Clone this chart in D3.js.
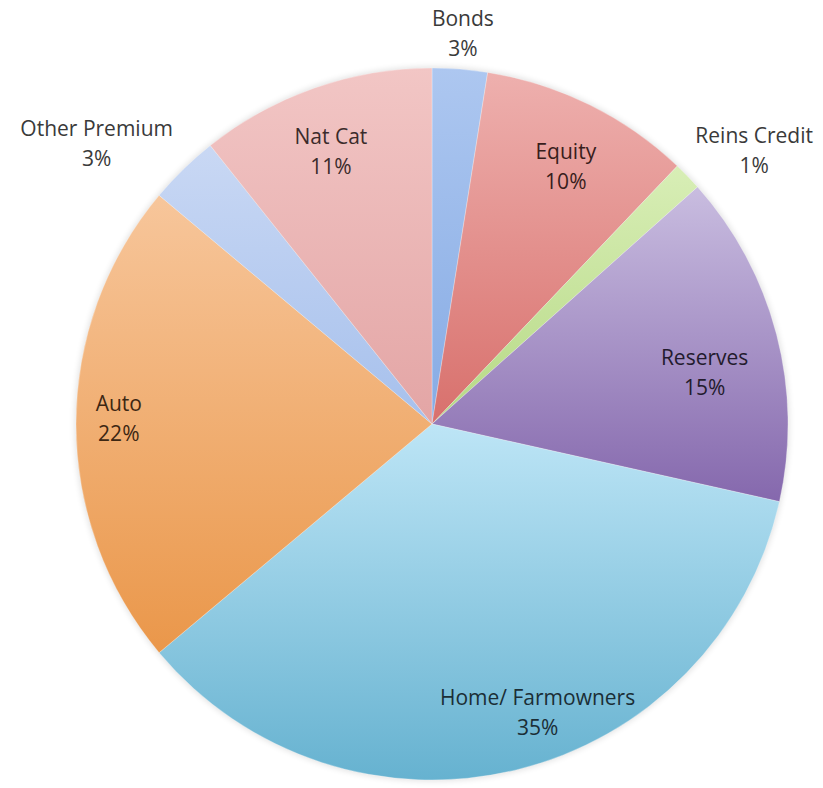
<!DOCTYPE html>
<html>
<head>
<meta charset="utf-8">
<script src="https://cdn.jsdelivr.net/npm/d3@7"></script>
<style>
  body { margin: 0; background: #fff; }
  #chart-area text { font-family: "Open Sans", Lato, sans-serif; }
</style>
</head>
<body>
<div id="chart-area"></div>
<script>
// slices clockwise from 12 o'clock
const categories = ['Bonds', 'Equity', 'Reins Credit', 'Reserves', 'Home/ Farmowners', 'Auto', 'Other Premium', 'Nat Cat']
const shares = [2.5, 9.6, 1.3, 15.1, 35.4, 22.2, 3.2, 10.7]
const pctLabels = ['3%', '10%', '1%', '15%', '35%', '22%', '3%', '11%']

// gradient colours top -> bottom per slice
const topColors = ['#adc7f0', '#eeb0ae', '#d8eeb6', '#c9bde0', '#bde5f6', '#f7c69b', '#c9d8f4', '#f2c6c5']
const bottomColors = ['#86abe4', '#d8706c', '#b6d985', '#8568ad', '#66b2d0', '#ea974a', '#a6c0ec', '#e3a5a5']

// label placement: radius factor and angle nudge (deg)
const labelLayout = {
    'Bonds': { k: 1.105, da: 0, out: true },
    'Equity': { k: 0.82, da: 1, out: false },
    'Reins Credit': { k: 1.19, da: 3.6, out: true },
    'Reserves': { k: 0.78, da: 3.6, out: false },
    'Home/ Farmowners': { k: 0.86, da: -6.5, out: false },
    'Auto': { k: 0.88, da: 1.3, out: false },
    'Other Premium': { k: 1.23, da: -5.7, out: true },
    'Nat Cat': { k: 0.82, da: -1, out: false }
}

const width = 823
const height = 788
const cx = 432
const cy = 424
const radius = 356

const data = categories.map((c, i) => ({ name: c, value: shares[i], pct: pctLabels[i], i: i }))

const svg = d3.select('#chart-area').append('svg')
    .attr('width', width)
    .attr('height', height)

const defs = svg.append('defs')

data.forEach(d => {
    const grad = defs.append('linearGradient')
        .attr('id', 'grad' + d.i)
        .attr('x1', 0).attr('y1', 0)
        .attr('x2', 0).attr('y2', 1)
    grad.append('stop').attr('offset', '0%').attr('stop-color', topColors[d.i])
    grad.append('stop').attr('offset', '100%').attr('stop-color', bottomColors[d.i])
})

const filter = defs.append('filter')
    .attr('id', 'soft')
    .attr('x', '-10%').attr('y', '-10%')
    .attr('width', '120%').attr('height', '120%')
filter.append('feGaussianBlur').attr('stdDeviation', 3)

const g = svg.append('g')
    .attr('transform', `translate(${cx}, ${cy})`)

const pie = d3.pie()
    .value(d => d.value)
    .sort(null)

const arc = d3.arc()
    .innerRadius(0)
    .outerRadius(radius)

const arcs = pie(data)

// faint shadow round the pie
g.append('circle')
    .attr('r', radius + 1)
    .attr('fill', '#000')
    .attr('opacity', 0.12)
    .attr('filter', 'url(#soft)')

g.selectAll('path.slice')
    .data(arcs)
    .enter().append('path')
    .attr('class', 'slice')
    .attr('d', arc)
    .attr('fill', d => `url(#grad${d.data.i})`)
    .attr('stroke', '#ffffff')
    .attr('stroke-opacity', 0.35)
    .attr('stroke-width', 0.8)

const labels = g.selectAll('g.label')
    .data(arcs)
    .enter().append('g')
    .attr('class', 'label')
    .attr('transform', d => {
        const lay = labelLayout[d.data.name]
        const mid = (d.startAngle + d.endAngle) / 2 + lay.da * Math.PI / 180
        const r = radius * lay.k
        return `translate(${r * Math.sin(mid)}, ${-r * Math.cos(mid)})`
    })

const textColor = d => labelLayout[d.data.name].out
    ? '#3a3a3a'
    : d3.interpolateRgb(bottomColors[d.data.i], '#000')(0.74)

labels.append('text')
    .attr('text-anchor', 'middle')
    .attr('y', -6)
    .attr('font-size', '21px')
    .attr('fill', textColor)
    .text(d => d.data.name)

labels.append('text')
    .attr('text-anchor', 'middle')
    .attr('y', 24)
    .attr('font-size', '21px')
    .attr('fill', textColor)
    .text(d => d.data.pct)
</script>
</body>
</html>
